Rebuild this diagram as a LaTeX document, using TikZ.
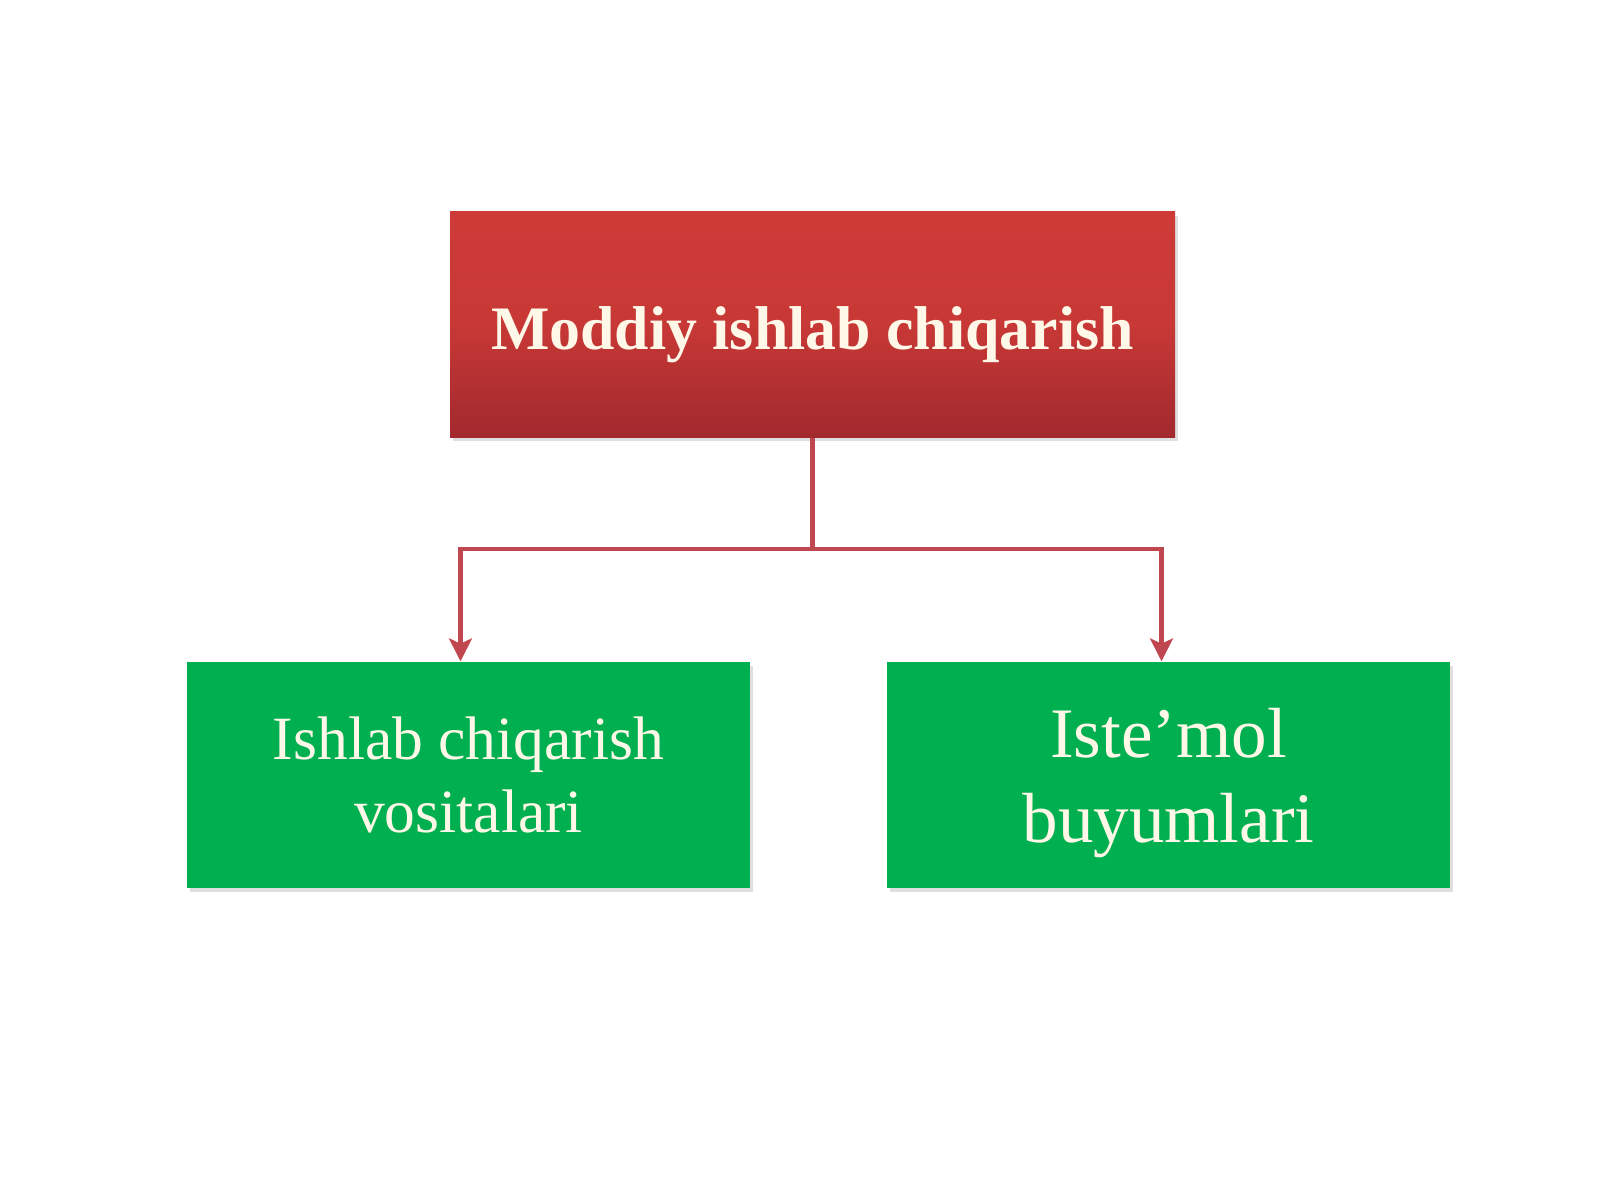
\documentclass[tikz,border=0pt]{standalone}
\usepackage{fontspec}
\setmainfont{Liberation Serif}
\usetikzlibrary{shapes,arrows.meta,positioning,shadows}
\definecolor{topred}{HTML}{CE3B37}
\definecolor{botred}{HTML}{A2292E}
\definecolor{boxgreen}{HTML}{00B050}
\definecolor{linkred}{HTML}{C0474F}
\definecolor{cream}{HTML}{FFF8E8}

\begin{document}
\begin{tikzpicture}[
    mainbox/.style={rectangle, top color=topred, bottom color=botred, middle color=topred!85!botred, text=cream, minimum width=7.25cm, minimum height=2.25cm, text height=0.6cm, text depth=0.11cm, align=center, font=\fontsize{17.6}{21}\selectfont\bfseries, drop shadow={shadow xshift=0.03cm, shadow yshift=-0.04cm, opacity=0.25}},
    subbox/.style={rectangle, fill=boxgreen, text=cream, minimum width=5.63cm, minimum height=2.26cm, align=center, drop shadow={shadow xshift=0.03cm, shadow yshift=-0.04cm, opacity=0.25}},
    link/.style={draw=linkred, line width=1.4pt, line join=miter, -{Stealth[length=6.5pt, width=6.5pt, inset=1.5pt]}}
]
\fill[white] (0,0) rectangle (16,12);
\useasboundingbox (0,0) rectangle (16,12);

% Nodes
\node [mainbox] (moddiy) at (8.125,8.755) {Moddiy ishlab chiqarish};
\node [subbox, font=\fontsize{17.5}{21}\selectfont] (vosita) at (4.685,4.25) {Ishlab chiqarish\\vositalari};
\node [subbox, text depth=0pt, font=\fontsize{20.2}{24.2}\selectfont] (buyum) at (11.685,4.25) {Iste’mol\\buyumlari};
\coordinate (split) at (moddiy.south |- 0,6.51);

% Edges
\path [link] (moddiy.south) -- (split) -| ([xshift=-0.08cm]vosita.north);
\path [link] (split) -| ([xshift=-0.07cm]buyum.north);

\end{tikzpicture}
\end{document}
